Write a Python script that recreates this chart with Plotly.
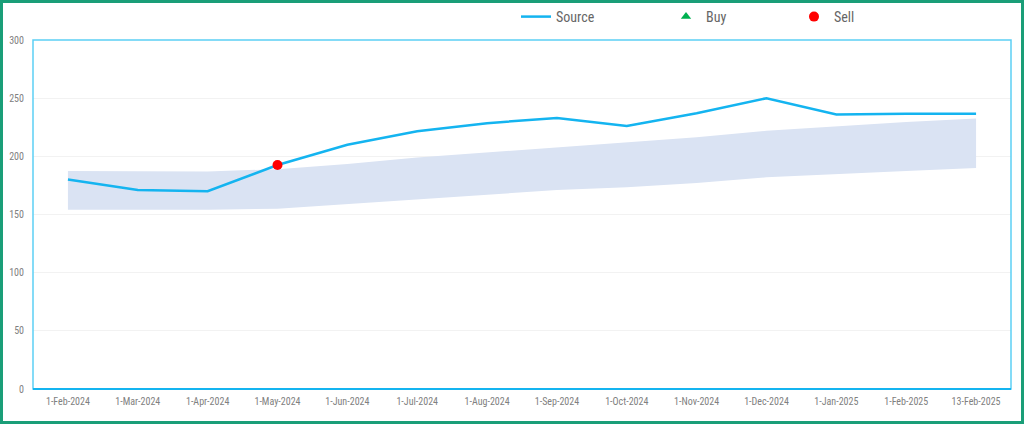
import plotly.graph_objects as go

dates = ["1-Feb-2024", "1-Mar-2024", "1-Apr-2024", "1-May-2024", "1-Jun-2024", "1-Jul-2024",
         "1-Aug-2024", "1-Sep-2024", "1-Oct-2024", "1-Nov-2024", "1-Dec-2024", "1-Jan-2025",
         "1-Feb-2025", "13-Feb-2025"]
source = [180, 171, 170, 192.5, 210, 221.5, 228.5, 233, 226, 237, 250, 236, 236.5, 236.5]
band_upper = [187.5, 187.5, 187, 189, 193.5, 199, 203.5, 208, 212, 216.5, 222, 226, 229.5, 232.5]
band_lower = [154, 154, 154, 155, 159, 163, 167, 171, 173.5, 177, 182, 185, 187.5, 190]
sell_dates = ["1-May-2024"]
sell_values = [192.5]
buy_dates = []
buy_values = []

W, H = 1024, 424
L, R, T, B = 33, 13, 40, 35
PW, PH = W - L - R, H - T - B
FONT = "'Liberation Sans Narrow', 'Roboto Condensed', Roboto, Arial, sans-serif"

fig = go.Figure()
fig.add_trace(go.Scatter(x=dates, y=band_lower, mode="lines", line=dict(width=0, color="rgba(0,0,0,0)"),
                         showlegend=False, hoverinfo="skip"))
fig.add_trace(go.Scatter(x=dates, y=band_upper, mode="lines", line=dict(width=0, color="rgba(0,0,0,0)"),
                         fill="tonexty", fillcolor="#dae3f3", showlegend=False, hoverinfo="skip"))
fig.add_trace(go.Scatter(x=dates, y=source, mode="lines", name="Source", legend="legend",
                         line=dict(color="#14b4f0", width=2.5)))
fig.add_trace(go.Scatter(x=buy_dates if buy_dates else [None], y=buy_values if buy_values else [None],
                         mode="markers", name="Buy", legend="legend2",
                         marker=dict(symbol="triangle-up", color="#00b050", size=9)))
fig.add_trace(go.Scatter(x=sell_dates, y=sell_values, mode="markers", name="Sell", legend="legend2",
                         marker=dict(symbol="circle", color="#ff0000", size=10)))

legend_common = dict(orientation="h", traceorder="normal", xanchor="left",
                     y=1 + 23 / PH, yanchor="middle",
                     font=dict(size=14, color="#666666", family=FONT),
                     entrywidth=83, entrywidthmode="pixels", bgcolor="rgba(0,0,0,0)")

fig.update_layout(
    width=W, height=H,
    margin=dict(l=L, r=R, t=T, b=B, autoexpand=False),
    paper_bgcolor="white", plot_bgcolor="white",
    font=dict(family=FONT, color="#808080"),
    legend=dict(x=(516 - L) / PW, **legend_common),
    legend2=dict(x=(666 - L) / PW, **legend_common),
    xaxis=dict(type="category", range=[-0.5, 13.5], showgrid=False, showline=False,
               ticks="", tickfont=dict(size=10, color="#808080"), automargin=False,
               ticklabelstandoff=5, fixedrange=True),
    yaxis=dict(range=[0, 300], tickvals=[0, 50, 100, 150, 200, 250, 300], showgrid=True,
               gridcolor="#f2f2f2", gridwidth=1, zeroline=False, showline=False,
               tickfont=dict(size=10, color="#808080"), ticks="", automargin=False,
               ticklabelstandoff=8, fixedrange=True),
    shapes=[
        dict(type="rect", xref="paper", yref="paper", x0=0, x1=1, y0=0, y1=1,
             line=dict(color="#5ccff5", width=1.5), fillcolor="rgba(0,0,0,0)", layer="above"),
        dict(type="line", xref="paper", yref="paper", x0=0, x1=1, y0=0, y1=0,
             line=dict(color="#14b4f0", width=2), layer="above"),
        dict(type="rect", xref="paper", yref="paper", x0=(-L + 1.5) / PW, x1=1 + (R - 1.5) / PW,
             y0=(-B + 1.5) / PH, y1=1 + (T - 1.5) / PH, line=dict(color="#1a9e78", width=3),
             fillcolor="rgba(0,0,0,0)", layer="above"),
    ],
)

fig.write_html("out.html", config={"displayModeBar": False},
               post_script="document.body.style.margin='0';document.body.style.overflow='hidden';")
